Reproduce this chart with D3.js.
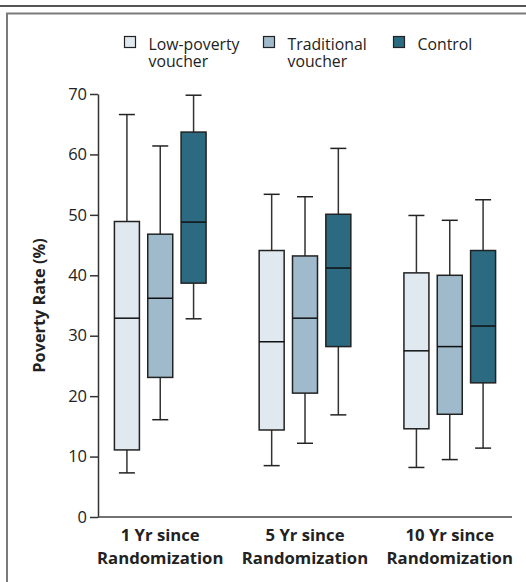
<!DOCTYPE html>
<html>
<head>
<meta charset="utf-8">
<script src="https://cdn.jsdelivr.net/npm/d3@7"></script>
<style>
  body { margin: 0; background: white; }
  text { font-family: "Open Sans", sans-serif; }
</style>
</head>
<body>
<svg id="chart"></svg>
<script>
const groups = ["1 Yr since|Randomization", "5 Yr since|Randomization", "10 Yr since|Randomization"];
const series = ["Low-poverty|voucher", "Traditional|voucher", "Control"];
const colors = ["#dfe9ef", "#9fbacb", "#2b6a80"];
const yTicks = [0, 10, 20, 30, 40, 50, 60, 70];

// whisker low, box low, median, box high, whisker high -- one row per group
const lowPoverty  = [[7.3, 11.1, 32.9, 48.9, 66.6], [8.5, 14.4, 29.0, 44.1, 53.4], [8.2, 14.6, 27.5, 40.4, 49.9]];
const traditional = [[16.1, 23.1, 36.2, 46.8, 61.4], [12.2, 20.5, 32.9, 43.2, 53.0], [9.5, 17.0, 28.2, 40.0, 49.1]];
const control     = [[32.8, 38.7, 48.8, 63.7, 69.8], [16.9, 28.2, 41.2, 50.1, 61.0], [11.4, 22.2, 31.6, 44.1, 52.5]];

const width = 526;
const height = 582;
const margin = { top: 94, right: 14, bottom: 65, left: 98 };

const svg = d3.select("#chart")
    .attr("width", width)
    .attr("height", height);

// frame
svg.append("line")
    .attr("x1", 0).attr("x2", width).attr("y1", 6).attr("y2", 6)
    .style("stroke", "#555").style("stroke-width", 2);
svg.append("path")
    .attr("d", `M7,${height} V13.5 H${width}`)
    .style("fill", "none").style("stroke", "#7a7a7a").style("stroke-width", 2);

const rows = series.map((s, i) => ({ name: s, color: colors[i], values: [lowPoverty, traditional, control][i] }));

const yScale = d3.scaleLinear()
    .domain([0, 70])
    .range([height - margin.bottom, margin.top]);

const x0 = d3.scalePoint()
    .domain(groups)
    .range([margin.left, width - margin.right])
    .padding(0.43);

const x1 = d3.scaleBand()
    .domain(series)
    .range([-50, 50])
    .paddingInner(0.25)
    .paddingOuter(0.125);

// y axis
const yAxis = svg.append("g")
    .attr("transform", `translate(${margin.left},0)`)
    .call(d3.axisLeft(yScale).tickValues(yTicks).tickSize(8).tickSizeOuter(0).tickPadding(3));
yAxis.select(".domain").style("stroke", "#333").style("stroke-width", 1.5);
yAxis.selectAll(".tick line").style("stroke", "#333").style("stroke-width", 1.5);
yAxis.selectAll("text")
    .style("font-family", "'Open Sans', sans-serif")
    .style("font-size", "16.5px")
    .style("fill", "#222");

// x axis line
svg.append("line")
    .attr("x1", margin.left)
    .attr("x2", width - margin.right)
    .attr("y1", yScale(0))
    .attr("y2", yScale(0))
    .style("stroke", "#444")
    .style("stroke-width", 1.5);

svg.append("text")
    .attr("transform", `translate(45,${(yScale(0) + yScale(70)) / 2}) rotate(-90)`)
    .attr("text-anchor", "middle")
    .style("font-size", "16.3px")
    .style("font-weight", "bold")
    .style("fill", "#222")
    .text("Poverty Rate (%)");

// category labels
groups.forEach(g => {
    g.split("|").forEach((line, k) => {
        svg.append("text")
            .attr("text-anchor", "middle")
            .attr("x", x0(g))
            .attr("y", 541 + k * 22.5)
            .style("font-size", "16.7px")
            .style("font-weight", "bold")
            .style("fill", "#222")
            .text(line);
    });
});

// boxes
const capWidth = 16;
rows.forEach(r => {
    groups.forEach((g, gi) => {
        const v = r.values[gi];
        const cx = x0(g) + x1(r.name) + x1.bandwidth() / 2;
        const gEl = svg.append("g");

        gEl.append("line")
            .attr("x1", cx).attr("x2", cx)
            .attr("y1", yScale(v[0])).attr("y2", yScale(v[4]))
            .style("stroke", "#333").style("stroke-width", 1.5);
        [v[0], v[4]].forEach(w => {
            gEl.append("line")
                .attr("x1", cx - capWidth / 2).attr("x2", cx + capWidth / 2)
                .attr("y1", yScale(w)).attr("y2", yScale(w))
                .style("stroke", "#222").style("stroke-width", 1.5);
        });
        gEl.append("rect")
            .attr("x", x0(g) + x1(r.name))
            .attr("width", x1.bandwidth())
            .attr("y", yScale(v[3]))
            .attr("height", yScale(v[1]) - yScale(v[3]))
            .style("fill", r.color)
            .style("stroke", "#222")
            .style("stroke-width", 1.5);
        gEl.append("line")
            .attr("x1", x0(g) + x1(r.name)).attr("x2", x0(g) + x1(r.name) + x1.bandwidth())
            .attr("y1", yScale(v[2])).attr("y2", yScale(v[2]))
            .style("stroke", "#111").style("stroke-width", 1.5);
    });
});

// legend
const legendX = [124.5, 263.5, 393.5];
rows.forEach((r, i) => {
    const lg = svg.append("g").attr("transform", `translate(${legendX[i]},36.5)`);
    lg.append("rect")
        .attr("width", 11).attr("height", 11)
        .style("fill", r.color)
        .style("stroke", "#222")
        .style("stroke-width", 1.2);
    r.name.split("|").forEach((line, k) => {
        lg.append("text")
            .attr("x", 24)
            .attr("y", 13.5 + k * 17)
            .style("font-size", "15.8px")
            .style("fill", "#222")
            .text(line);
    });
});
</script>
</body>
</html>
